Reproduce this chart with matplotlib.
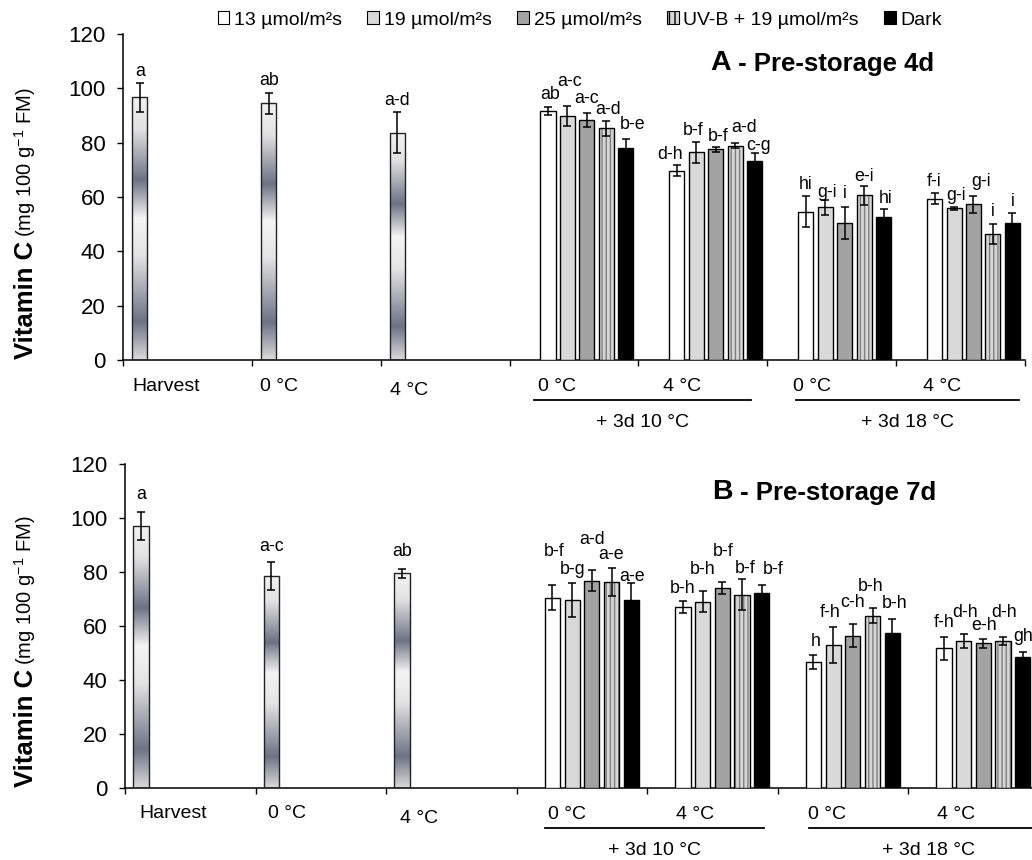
import numpy as np
import matplotlib
matplotlib.use("Agg")
import matplotlib.pyplot as plt
from matplotlib.colors import LinearSegmentedColormap
from matplotlib.patches import Patch

plt.rcParams["font.family"] = ["Liberation Sans", "DejaVu Sans"]
plt.rcParams["mathtext.fontset"] = "custom"
plt.rcParams["mathtext.rm"] = "Liberation Sans"
plt.rcParams["hatch.linewidth"] = 1.0

SERIES = ["13 µmol/m²s", "19 µmol/m²s", "25 µmol/m²s", "UV-B + 19 µmol/m²s", "Dark"]
SINGLE_CATS = ["Harvest", "0 °C", "4 °C"]
GROUP_CATS = ["0 °C", "4 °C", "0 °C", "4 °C"]
STORAGE = ["+ 3d 10 °C", "+ 3d 18 °C"]

# panel A - pre-storage 4d
A_SINGLE = [96.7, 94.5, 83.7]
A_SINGLE_ERR = [5.3, 3.9, 7.6]
A_SINGLE_LET = ["a", "ab", "a-d"]
A_13 = [91.8, 69.7, 54.5, 59.4]
A_19 = [89.8, 76.4, 56.2, 55.8]
A_25 = [88.3, 77.5, 50.5, 57.3]
A_UVB = [85.3, 78.8, 60.6, 46.3]
A_DARK = [77.9, 73.4, 52.6, 50.4]
A_13_ERR = [1.5, 2.0, 5.7, 2.0]
A_19_ERR = [3.6, 3.8, 2.8, 0.7]
A_25_ERR = [2.5, 0.8, 5.9, 3.1]
A_UVB_ERR = [2.8, 0.9, 3.4, 3.7]
A_DARK_ERR = [3.6, 2.7, 2.9, 3.8]
A_13_LET = ["ab", "d-h", "hi", "f-i"]
A_19_LET = ["a-c", "b-f", "g-i", "g-i"]
A_25_LET = ["a-c", "b-f", "i", "g-i"]
A_UVB_LET = ["a-d", "a-d", "e-i", "i"]
A_DARK_LET = ["b-e", "c-g", "hi", "i"]

# panel B - pre-storage 7d
B_SINGLE = [97.2, 78.6, 79.5]
B_SINGLE_ERR = [5.2, 5.3, 1.8]
B_SINGLE_LET = ["a", "a-c", "ab"]
B_13 = [70.6, 67.1, 46.8, 51.8]
B_19 = [69.7, 69.0, 53.0, 54.5]
B_25 = [76.8, 74.1, 56.4, 53.7]
B_UVB = [76.3, 71.6, 63.9, 54.5]
B_DARK = [69.7, 72.2, 57.6, 48.7]
B_13_ERR = [4.8, 2.3, 2.7, 4.3]
B_19_ERR = [6.2, 3.9, 6.6, 2.5]
B_25_ERR = [3.8, 2.2, 4.3, 1.7]
B_UVB_ERR = [5.2, 5.8, 2.9, 1.5]
B_DARK_ERR = [6.4, 3.0, 5.0, 1.9]
B_13_LET = ["b-f", "b-h", "h", "f-h"]
B_19_LET = ["b-g", "b-h", "f-h", "d-h"]
B_25_LET = ["a-d", "b-f", "c-h", "e-h"]
B_UVB_LET = ["a-e", "b-f", "b-h", "d-h"]
B_DARK_LET = ["a-e", "b-f", "b-h", "gh"]

FACES = ["white", "#d9d9d9", "#a3a3a3", "#d6d6d6", "black"]

GRAD = LinearSegmentedColormap.from_list("steel", [
    (0.0, "#dadadc"), (0.146, "#6c7384"), (0.40, "#e4e4e6"), (0.54, "#f4f4f4"),
    (0.686, "#6c7384"), (0.88, "#e2e2e4"), (1.0, "#f2f2f2")])

# label nudges (px): dy above error bar top, dx sideways
LAYOUT = {
    "A": dict(
        rect=[123/1032, 1-360/860, 902/1032, 326/860],
        s_off=0.072, g_off=0.24,
        s_dy=[11, 12.3, 11.3],
        g_dy=[[11.7, 11, 12.3, 11.7], [24.3, 11.7, 7.7, 11], [14.7, 10.6, 13.3, 14.3],
              [11.3, 16, 10, 12.6], [13.7, 8, 10.3, 11]],
        g_dx=[[2, -7, 0, 0], [2.5, -3, 1.5, 2], [0, 2, 0, 7.5], [2, 9, 0, 0], [7, 4, 2, 0]],
        s_lab=[0.334, 1.21, 2.22], s_lab_y=[26, 26, 30],
        g_lab=[3.365, 4.335, 5.35, 6.36],
        lines=[(3.19, 4.87), (5.22, 6.95)], caps=[4.03, 6.09],
        title=("A", (0.651, 0.911))),
    "B": dict(
        rect=[125/1032, 1-788.3/860, 913.5/1032, 324.3/860],
        s_off=0.064, g_off=0.217,
        s_dy=[16.7, 15.3, 17.3],
        g_dy=[[33.3, 12.7, 13, 14], [13.3, 21.7, 14.3, 21.7], [30.7, 31, 21.7, 12.7],
              [13.3, 11, 21.7, 24.3], [6, 16, 15.3, 15]],
        g_dx=[[1.3, 0, 2, 0], [0, 0, -3, 1.5], [0, 1, 0, 1], [0, 3, -1.5, 1.5], [1, 11, 2, 0]],
        s_lab=[0.37, 1.24, 2.25], s_lab_y=[25, 25, 30],
        g_lab=[3.39, 4.37, 5.38, 6.37],
        lines=[(3.22, 4.90), (5.24, 7.2)], caps=[4.06, 6.16],
        title=("B", (0.6426, 0.9146))),
}

W, PITCH = 0.1165, 0.151
PX = 0.72  # px -> pt at 100 dpi
LET_FS, CAT_FS = 12.8, 14


def draw_panel(fig, key, single, single_err, single_let, groups, errs, lets):
    L = LAYOUT[key]
    ax = fig.add_axes(L["rect"])
    # single gradient bars
    xs = np.arange(len(single)) + L["s_off"]
    bars = ax.bar(xs, single, W, align="edge", facecolor="none",
                  edgecolor="#222222", lw=1.0, zorder=3)
    for b in bars:
        im = ax.imshow(np.linspace(0, 1, 256).reshape(-1, 1), cmap=GRAD, origin="lower",
                       extent=(b.get_x(), b.get_x() + b.get_width(), 0, b.get_height()),
                       aspect="auto", zorder=2, interpolation="bilinear")
        im.set_clip_path(b)
    cx = xs + W / 2
    ax.errorbar(cx, single, yerr=single_err, fmt="none", ecolor="black",
                elinewidth=1.1, capsize=3.2, capthick=1.1, zorder=4)
    for i in range(len(single)):
        ax.annotate(single_let[i], (cx[i], single[i] + single_err[i]),
                    xytext=(0, L["s_dy"][i] * PX), textcoords="offset points",
                    ha="center", va="center", fontsize=LET_FS)
    # grouped bars
    base = 3 + np.arange(len(GROUP_CATS)) + L["g_off"]
    for s in range(5):
        x = base + s * PITCH
        if s == 3:
            ax.bar(x, groups[s], W, align="edge", facecolor=FACES[s], hatch="||||",
                   edgecolor="#7f7f7f", lw=0, zorder=3)
            ax.bar(x, groups[s], W, align="edge", fill=False, edgecolor="black",
                   lw=1.0, zorder=3)
        else:
            ax.bar(x, groups[s], W, align="edge", facecolor=FACES[s],
                   edgecolor="black", lw=1.0, zorder=3)
        c = x + W / 2
        ax.errorbar(c, groups[s], yerr=errs[s], fmt="none", ecolor="black",
                    elinewidth=1.1, capsize=3.2, capthick=1.1, zorder=4)
        for g in range(len(c)):
            ax.annotate(lets[s][g], (c[g], groups[s][g] + errs[s][g]),
                        xytext=(L["g_dx"][s][g] * PX, L["g_dy"][s][g] * PX),
                        textcoords="offset points", ha="center", va="center",
                        fontsize=LET_FS)

    ax.set_xlim(0, 7)
    ax.set_ylim(0, 120)
    ax.set_yticks(range(0, 121, 20))
    ax.set_xticks(range(8))
    ax.set_xticklabels([])
    ax.tick_params(axis="y", direction="out", length=4.5, width=1.0, pad=8, labelsize=16)
    ax.tick_params(axis="x", direction="out", length=4, width=1.0)
    for sp in ["top", "right"]:
        ax.spines[sp].set_visible(False)
    for sp in ["left", "bottom"]:
        ax.spines[sp].set_linewidth(1.1)

    # category labels under the axis
    xt = ax.get_xaxis_transform()
    for lab, x, dy in zip(SINGLE_CATS, L["s_lab"], L["s_lab_y"]):
        ax.annotate(lab, (x, 0), xycoords=xt, xytext=(0, -dy * PX),
                    textcoords="offset points", ha="center", va="center", fontsize=CAT_FS)
    for lab, x in zip(GROUP_CATS, L["g_lab"]):
        ax.annotate(lab, (x, 0), xycoords=xt, xytext=(0, -26 * PX),
                    textcoords="offset points", ha="center", va="center", fontsize=CAT_FS)
    h_px = L["rect"][3] * 860
    for (x0, x1), xc, lab in zip(L["lines"], L["caps"], STORAGE):
        ax.plot([x0, x1], [-40 / h_px] * 2, transform=xt, color="black", lw=1.3, clip_on=False)
        ax.annotate(lab, (xc, 0), xycoords=xt, xytext=(0, -62 * PX),
                    textcoords="offset points", ha="center", va="center", fontsize=CAT_FS)

    # panel title
    letter, pos = L["title"]
    t = ax.text(pos[0], pos[1], letter, transform=ax.transAxes, fontsize=20.5,
                fontweight="bold", ha="left", va="center")
    ax.annotate(" - Pre-storage " + ("4d" if key == "A" else "7d"), (1, 0), xycoords=t,
                ha="left", va="bottom", fontsize=18.5, fontweight="bold")

    # y label: bold part + units
    y0 = L["rect"][1] + 1 / 860
    v = fig.text(26 / 1032, y0, "Vitamin C", rotation=90, ha="center", va="bottom",
                 fontsize=18.5, fontweight="bold")
    ax.annotate("(mg 100 g$^{-1}$ FM)", (1, 1), xycoords=v, xytext=(0, 3),
                textcoords="offset points", rotation=90, ha="right", va="bottom",
                fontsize=14.5)
    return ax


fig = plt.figure(figsize=(10.32, 8.6), dpi=100)

draw_panel(fig, "A", A_SINGLE, A_SINGLE_ERR, A_SINGLE_LET,
           [A_13, A_19, A_25, A_UVB, A_DARK],
           [A_13_ERR, A_19_ERR, A_25_ERR, A_UVB_ERR, A_DARK_ERR],
           [A_13_LET, A_19_LET, A_25_LET, A_UVB_LET, A_DARK_LET])
draw_panel(fig, "B", B_SINGLE, B_SINGLE_ERR, B_SINGLE_LET,
           [B_13, B_19, B_25, B_UVB, B_DARK],
           [B_13_ERR, B_19_ERR, B_25_ERR, B_UVB_ERR, B_DARK_ERR],
           [B_13_LET, B_19_LET, B_25_LET, B_UVB_LET, B_DARK_LET])

handles = []
for s in range(5):
    if s == 3:
        handles.append(Patch(facecolor=FACES[s], edgecolor="black", hatch="|||", lw=0.8))
    else:
        handles.append(Patch(facecolor=FACES[s], edgecolor="black", lw=0.8))
fig.legend(handles, SERIES, loc="center", bbox_to_anchor=(580 / 1032, 1 - 20 / 860),
           ncol=5, frameon=False, fontsize=14, handlelength=0.6, handleheight=0.6,
           handletextpad=0.25, columnspacing=1.3, borderaxespad=0, borderpad=0)

fig.savefig("out.png", dpi=100)
